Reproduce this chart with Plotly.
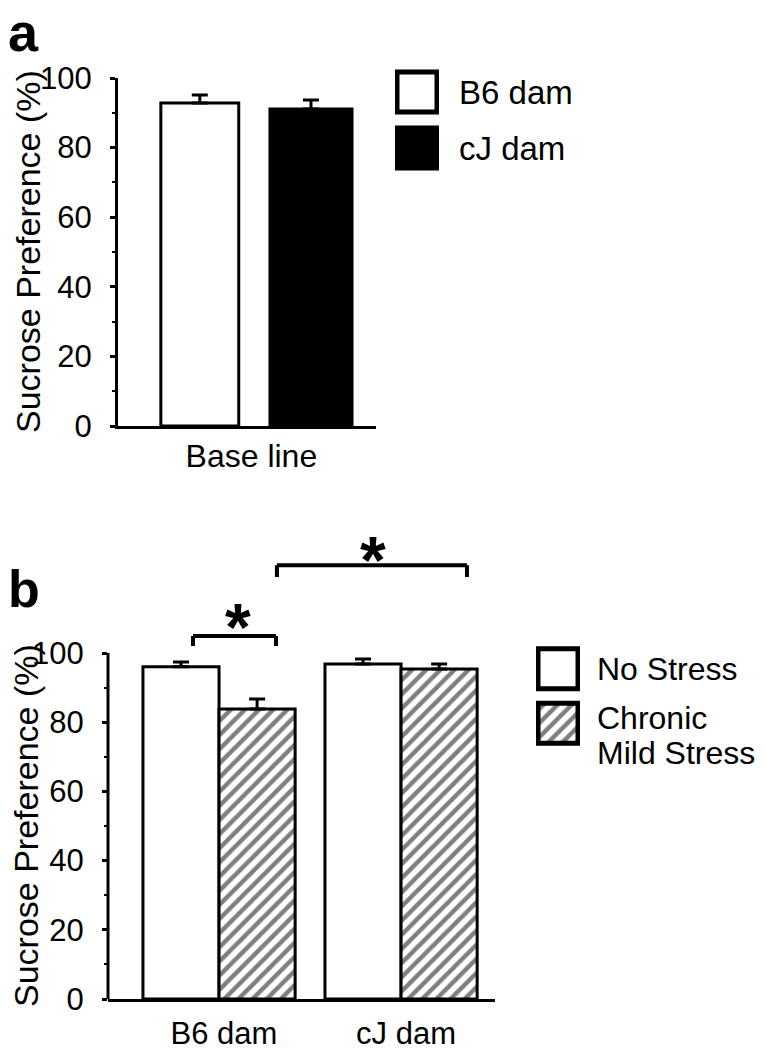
import plotly.graph_objects as go

W, H = 766, 1050
PAGE_MARGIN = 8  # the page body adds this much space around the figure
FONT = "Liberation Sans, Arial, sans-serif"

# Panel a: baseline sucrose preference
base_groups = ["Base line"]
dam_names = ["B6 dam", "cJ dam"]
base_means = [92.8, 91.1]
base_errs = [2.3, 2.6]

# Panel b: after chronic mild stress
stress_groups = ["B6 dam", "cJ dam"]
stress_names = ["No Stress", "Chronic<br>Mild Stress"]
no_stress_means = [96.0, 96.8]
no_stress_errs = [1.4, 1.5]
cms_means = [83.8, 95.4]
cms_errs = [2.9, 1.4]

y_ticks = [0, 20, 40, 60, 80, 100]
y_minor = [10, 30, 50, 70, 90]


def px_x(x):
    return (x - PAGE_MARGIN) / W


def px_y(y):
    return 1 - (y - PAGE_MARGIN) / H


fig = go.Figure()

# ---- panel a bars
a_colors = ["white", "black"]
a_offsets = [-0.351, 0.072]
a_widths = [0.302, 0.318]
for i, name in enumerate(dam_names):
    fig.add_trace(go.Bar(
        x=base_groups, y=[base_means[i]], name=name,
        width=a_widths[i], offset=a_offsets[i],
        marker=dict(color=a_colors[i], line=dict(color="black", width=3)),
        error_y=dict(type="data", array=[base_errs[i]], arrayminus=[0],
                     symmetric=False, color="black", thickness=3, width=8),
        xaxis="x", yaxis="y",
    ))

# ---- panel b bars
hatch = dict(fgcolor="black", bgcolor="white", size=10, solidity=0.45)
b_sets = [
    (no_stress_means, no_stress_errs, "", -0.445),
    (cms_means, cms_errs, "/", -0.027),
]
for (means, errs, shape, off), name in zip(b_sets, stress_names):
    fig.add_trace(go.Bar(
        x=stress_groups, y=means, name=name,
        width=0.418, offset=off,
        marker=dict(color="white", line=dict(color="black", width=3),
                    pattern=dict(shape=shape, **hatch)),
        error_y=dict(type="data", array=errs, arrayminus=[0] * len(errs),
                     symmetric=False, color="black", thickness=3, width=8),
        xaxis="x2", yaxis="y2",
    ))

# ---- legend swatches drawn as tiny bar charts
fig.add_trace(go.Bar(
    x=[1, 1], y=dam_names, orientation="h", width=0.71,
    marker=dict(color=a_colors, line=dict(color="black", width=5)),
    xaxis="x3", yaxis="y3",
))
fig.add_trace(go.Bar(
    x=[1, 1], y=stress_names, orientation="h", width=0.73,
    marker=dict(color="white", line=dict(color="black", width=5),
                pattern=dict(shape=["", "/"], **hatch)),
    xaxis="x4", yaxis="y4",
))

ytick_style = dict(
    tickvals=y_ticks, ticks="outside", ticklen=5, tickwidth=3, tickcolor="black",
    tickfont=dict(size=31, color="black", family=FONT), ticklabelstandoff=12,
    showgrid=False, zeroline=False, automargin=False,
    minor=dict(tickvals=y_minor, ticks="outside", ticklen=3, tickwidth=2, tickcolor="black"),
)
hidden = dict(visible=False, automargin=False, showgrid=False, zeroline=False)

fig.update_layout(
    width=W, height=H, margin=dict(l=0, r=0, t=0, b=0),
    paper_bgcolor="white", plot_bgcolor="white",
    showlegend=False, barmode="overlay",
    font=dict(family=FONT, color="black"),
    xaxis=dict(domain=[px_x(118), px_x(376)], anchor="y", type="category",
               range=[-0.517, 0.483], showline=True, linewidth=3, linecolor="black",
               ticks="", tickfont=dict(size=32), ticklabelstandoff=0,
               showgrid=False, zeroline=False, automargin=False),
    yaxis=dict(domain=[px_y(426), px_y(78)], anchor="x", range=[0, 100],
               showline=True, linewidth=3, linecolor="black", **ytick_style),
    xaxis2=dict(domain=[px_x(108), px_x(495)], anchor="y2", type="category",
                range=[-0.637, 1.489], showline=True, linewidth=3, linecolor="black",
                ticks="", tickfont=dict(size=31), ticklabelstandoff=5,
                showgrid=False, zeroline=False, automargin=False),
    yaxis2=dict(domain=[px_y(999), px_y(535.4)], anchor="x2", range=[0, 134],
                showline=False, **ytick_style),
    xaxis3=dict(domain=[px_x(395), px_x(439)], anchor="y3", range=[-0.05, 1.05], **hidden),
    yaxis3=dict(domain=[px_y(176), px_y(64)], anchor="x3", type="category",
                range=[1.5, -0.5], **hidden),
    xaxis4=dict(domain=[px_x(536), px_x(580)], anchor="y4", range=[-0.05, 1.05], **hidden),
    yaxis4=dict(domain=[px_y(750.5), px_y(641.5)], anchor="x4", type="category",
                range=[1.5, -0.5], **hidden),
)

# y axis line of panel b only spans 0-100 (brackets sit above it)
fig.add_shape(type="line", xref="x2 domain", yref="y2", x0=0, x1=0, y0=0, y1=100,
              line=dict(color="black", width=3))

# significance brackets: (left, right, top, bottom) in panel b data units
brackets = [(-0.170, 0.286, 104.9, 102.0), (0.291, 1.335, 125.4, 122.0)]
stars = [(0.077, 107.5), (0.819, 126.9)]
for x0, x1, top, bot in brackets:
    for xa, xb, ya, yb in [(x0, x1, top, top), (x0, x0, bot, top), (x1, x1, bot, top)]:
        fig.add_shape(type="line", xref="x2", yref="y2", x0=xa, x1=xb, y0=ya, y1=yb,
                      line=dict(color="black", width=4))
for sx, sy in stars:
    fig.add_annotation(x=sx, y=sy, xref="x2", yref="y2", text="<b>*</b>",
                       showarrow=False, font=dict(size=66, color="black"))

# y titles
fig.add_annotation(x=0, y=50, xref="x domain", yref="y", xshift=-90, xanchor="center",
                   text="Sucrose Preference (%)", textangle=-90, showarrow=False,
                   font=dict(size=34))
fig.add_annotation(x=0, y=50, xref="x2 domain", yref="y2", xshift=-82, xanchor="center",
                   text="Sucrose Preference (%)", textangle=-90, showarrow=False,
                   font=dict(size=34))

# panel letters
fig.add_annotation(x=px_x(6), y=px_y(0), xref="paper", yref="paper", xanchor="left",
                   yanchor="top", text="<b>a</b>", showarrow=False, font=dict(size=54))
fig.add_annotation(x=px_x(6), y=px_y(558), xref="paper", yref="paper", xanchor="left",
                   yanchor="top", text="<b>b</b>", showarrow=False, font=dict(size=52))

# legend labels (second label split in two lines set closer than the default spacing)
for name in dam_names:
    fig.add_annotation(x=1, y=name, xref="x3 domain", yref="y3", xanchor="left",
                       xshift=18, text=name, showarrow=False, font=dict(size=33))
line_shifts = [[0], [5, -30]]
for name, shifts in zip(stress_names, line_shifts):
    for part, shift in zip(name.split("<br>"), shifts):
        fig.add_annotation(x=1, y=name, xref="x4 domain", yref="y4", xanchor="left",
                           xshift=15, yshift=shift, text=part,
                           showarrow=False, font=dict(size=32))

fig.write_html("out.html")
